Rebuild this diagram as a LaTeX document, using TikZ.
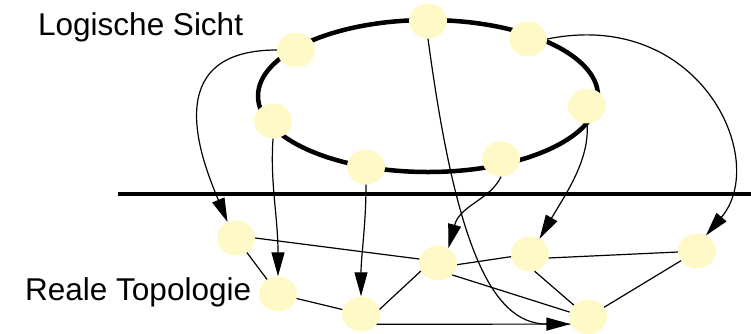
\documentclass[tikz,border=0pt]{standalone}
\usepackage{fontspec}
\setmainfont{Liberation Sans}
\usetikzlibrary{shapes.geometric,arrows.meta}
\definecolor{nodefill}{RGB}{255,249,200}
\begin{document}
\begin{tikzpicture}[x=1pt,y=-1pt,
  vnode/.style={ellipse,fill=nodefill,draw=none,minimum width=38pt,minimum height=35pt,inner sep=0pt},
  link/.style={line width=1.2pt},
  map/.style={line width=1.2pt,-{Triangle[length=24pt,width=13pt]}},
  ringline/.style={line width=4.5pt},
  barline/.style={line width=4.2pt},
  lbl/.style={anchor=base west,inner sep=0pt,font=\fontsize{31.5}{36}\selectfont}]
\useasboundingbox (0,0) rectangle (751,333);
% logical ring and separator
\draw[ringline] (428,96) ellipse [x radius=170pt, y radius=76pt];
\coordinate (barL) at (118,194);
\coordinate (barR) at (751,194);
\draw[barline] (barL) -- (barR);
% labels
\node[lbl] (tlog) at (38,35) {Logische Sicht};
\node[lbl] (treal) at (25,300) {Reale Topologie};
% ring nodes
\node[vnode] (A) at (296,50) {};
\node[vnode] (B) at (273,121) {};
\node[vnode] (C) at (366,167) {};
\node[vnode] (D) at (428,21) {};
\node[vnode] (E) at (528,39) {};
\node[vnode] (F) at (587,106) {};
\node[vnode] (G) at (501,159) {};
% real nodes
\node[vnode] (H) at (236,238) {};
\node[vnode] (I) at (278,294) {};
\node[vnode] (J) at (361,314) {};
\node[vnode] (K) at (438,263) {};
\node[vnode] (L) at (530,254) {};
\node[vnode] (M) at (697,251) {};
\node[vnode] (N) at (588,317) {};
% physical links
\draw[link] (H.0) -- (K.168);
\draw[link] (H) -- (I);
\draw[link] (I) -- (J);
\draw[link] (J.14) -- (K.205);
\draw[link] (K.-5) -- (L.188);
\draw[link] (L.-12) -- (M.183);
\draw[link] (K.-40) -- (N.165);
\draw[link] (L.-75) -- (N.140);
\draw[link] (M) -- (N);
\draw[link] (J.-33) -- (N.202);
% mapping arrows
\draw[map] (A.west) .. controls +(-120,0) and +(-25,-60) .. (H.118);
\draw[map] (B.south) .. controls +(-3,45) and +(0,-60) .. (I.north);
\draw[map] (C.south) .. controls +(0,40) and +(0,-40) .. (J.north);
\draw[map] (D.south) .. controls (455,240) and (490,324) .. (N.202);
\draw[map] (G.south) .. controls (490,200) and (460,205) .. (K.55);
\draw[map] (F.south) .. controls (590,160) and (565,195) .. (L.58);
\draw[map] (E.east) .. controls (700,8) and (770,160) .. (M.60);
\end{tikzpicture}
\end{document}
